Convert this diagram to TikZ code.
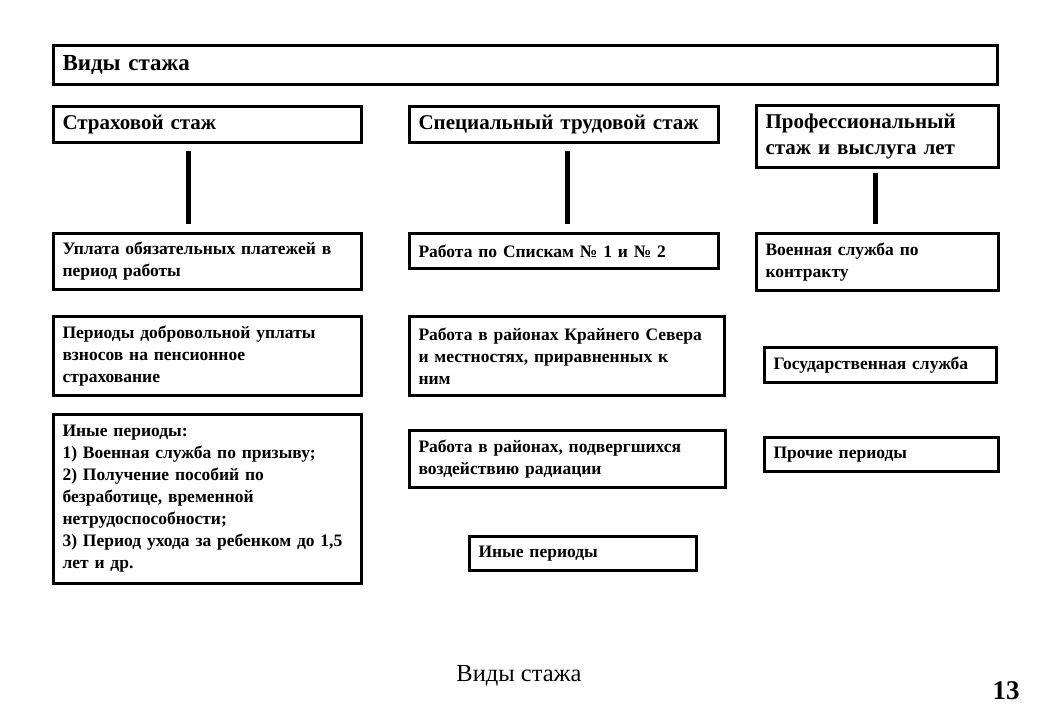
\documentclass[tikz,border=0pt]{standalone}
\usepackage{fontspec}
\setmainfont{Liberation Serif}
\tikzset{
  box/.style={draw, line width=3pt, anchor=north west, align=left, inner xsep=8pt, inner ysep=0pt,
    font=\fontsize{17.5}{22}\selectfont\bfseries},
  head/.style={box, font=\fontsize{21}{26}\selectfont\bfseries},
  link/.style={line width=5pt, shorten <=7pt, shorten >=8pt},
}
\begin{document}
\begin{tikzpicture}[x=1pt,y=-1pt]
            \useasboundingbox (0,0) rectangle (1040,720);
            \node[head, minimum width=944, minimum height=39, text width=926, font=\fontsize{23}{27}\selectfont\bfseries] (vidy) at (52,44) {Виды стажа};

            \node[head, minimum width=308, minimum height=36, text width=290] (strah) at (52,105) {Страховой стаж};
            \node[head, minimum width=309, minimum height=36, text width=291] (spec) at (408,105) {Специальный трудовой стаж};
            \node[head, minimum width=242, minimum height=62, text width=224] (prof) at (755,104) {Профессиональный\\ стаж и выслуга лет};

            \node[box, minimum width=308, minimum height=56, text width=290] (uplata) at (52,232) {Уплата обязательных платежей в\\ период работы};
            \node[box, minimum width=308, minimum height=79, text width=290] (dobr) at (52,315) {Периоды добровольной уплаты\\ взносов на пенсионное\\ страхование};
            \node[box, minimum width=308, minimum height=169, text width=290] (inye) at (52,413) {Иные периоды:\\ 1) Военная служба по призыву;\\ 2) Получение пособий по\\ безработице, временной\\ нетрудоспособности;\\ 3) Период ухода за ребенком до 1,5\\ лет и др.};

            \node[box, minimum width=309, minimum height=35, text width=291] (spiski) at (408,232) {Работа по Спискам № 1 и № 2};
            \node[box, minimum width=315, minimum height=79, text width=297] (sever) at (408,315) {Работа в районах Крайнего Севера\\ и местностях, приравненных к\\ ним};
            \node[box, minimum width=316, minimum height=57, text width=298] (radiac) at (408,429) {Работа в районах, подвергшихся\\ воздействию радиации};
            \node[box, minimum width=227, minimum height=34, text width=209] (inye2) at (468,535) {Иные периоды};

            \node[box, minimum width=242, minimum height=57, text width=224] (voen) at (755,232) {Военная служба по\\ контракту};
            \node[box, minimum width=232, minimum height=35, text width=214] (gos) at (763,346) {Государственная служба};
            \node[box, minimum width=234, minimum height=34, text width=216] (prochie) at (763,436) {Прочие периоды};

            \draw[link] ([xshift=-19]strah.south) to ([xshift=-19]uplata.north);
            \draw[link] ([xshift=3]spec.south) to ([xshift=3]spiski.north);
            \draw[link, shorten <=4pt] ([xshift=-2]prof.south) to ([xshift=-2]voen.north);

            \node[font=\fontsize{24.5}{28}\selectfont] (caption) at (519,676) {Виды стажа};
            \node[font=\fontsize{27}{30}\selectfont\bfseries] (page) at (1006,691) {13};
        \end{tikzpicture}
\end{document}
